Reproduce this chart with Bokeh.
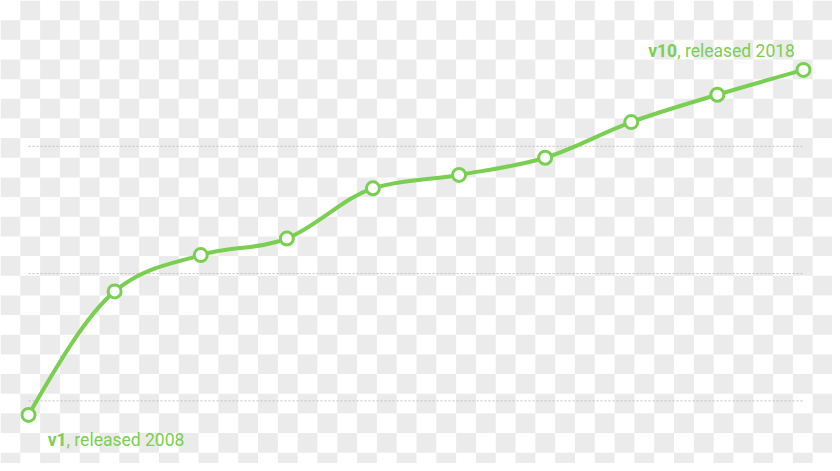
import numpy as np
from bokeh.plotting import figure
from bokeh.models import Range1d
from bokeh.core.properties import value
from bokeh.embed import file_html
from bokeh.resources import INLINE

# ---- data -------------------------------------------------------------
versions = [1, 2, 3, 4, 5, 6, 7, 8, 9, 10]
values = [89, 186, 214.5, 227.5, 267, 277.5, 291, 319, 340.5, 360]
grid_values = [100, 200, 300]
first_label = ["v1", ", released 2008"]
last_label = ["v10", ", released 2018"]

GREEN = "#7acf52"
GRID = "#c0c0c0"
CHECK = "#ebebeb"

# ---- layout / scales ----------------------------------------------------
REF_W, REF_H = 840, 471          # design canvas
W, H = 832, 463                  # fits the window with the 8px page margin
SX, SY = W / REF_W, H / REF_H
PX_PER_X = 86.93                 # design px per version step
PX_PER_Y = 1.295                 # design px per value unit
x_start = versions[0] - 28.3 / PX_PER_X
x_end = x_start + REF_W / PX_PER_X
y_end = grid_values[0] + 407.3 / PX_PER_Y
y_start = y_end - REF_H / PX_PER_Y

p = figure(width=W, height=H, output_backend="svg", toolbar_location=None,
           x_range=Range1d(x_start, x_end), y_range=Range1d(y_start, y_end),
           min_border=0, background_fill_color="white", border_fill_color="white")
p.axis.visible = False
p.grid.visible = False
p.outline_line_color = None

# ---- checkerboard background (transparent-image look) -----------------
def dx_to_x(X):
    return x_start + X / PX_PER_X

def dy_to_y(Y):
    return y_end - Y / PX_PER_Y

L, R, T, B = [], [], [], []
for c in range(0, 42):
    for r in range(0, 24):
        if (c + r) % 2 == 1:
            X0, X1 = 20 * c, min(20 * c + 20, REF_W)
            Y0, Y1 = 20 * r, min(20 * r + 20, REF_H)
            L.append(dx_to_x(X0)); R.append(dx_to_x(X1))
            T.append(dy_to_y(Y0)); B.append(dy_to_y(Y1))
p.quad(left=L, right=R, top=T, bottom=B, fill_color=CHECK, line_color=None)

# ---- dotted reference lines --------------------------------------------
p.segment(x0=[versions[0]] * len(grid_values), x1=[versions[-1]] * len(grid_values),
          y0=grid_values, y1=grid_values, line_color=GRID, line_width=1,
          line_dash="2 2")

# ---- smooth monotone curve (d3 curveMonotoneX style) --------------------
x = np.array(versions, dtype=float)
y = np.array(values, dtype=float)
n = len(x)
h = np.diff(x)
s = np.diff(y) / h
t = np.zeros(n)
for i in range(1, n - 1):
    p_ = (s[i - 1] * h[i] + s[i] * h[i - 1]) / (h[i - 1] + h[i])
    t[i] = (np.sign(s[i - 1]) + np.sign(s[i])) * min(abs(s[i - 1]), abs(s[i]), 0.5 * abs(p_))
t[0] = (3 * s[0] - t[1]) / 2
t[-1] = (3 * s[-1] - t[-2]) / 2
dx = h / 3
p.bezier(x0=x[:-1], y0=y[:-1], x1=x[1:], y1=y[1:],
         cx0=x[:-1] + dx, cy0=y[:-1] + dx * t[:-1],
         cx1=x[1:] - dx, cy1=y[1:] - dx * t[1:],
         line_color=GREEN, line_width=4, line_cap="round")

p.scatter(versions, values, size=13, fill_color="white", line_color=GREEN,
          line_width=3)

# ---- labels ------------------------------------------------------------
FONT = value("Roboto")
common = dict(text_font=FONT, text_font_size="17.5px", text_color=GREEN,
              text_baseline="alphabetic")
# first label: joined at the comma, 38.4 design px right of the point
p.text(x=[versions[0]], y=[values[0]], text=[first_label[0]], x_offset=38.4 * SX,
       y_offset=25.6 * SY, text_align="right", text_font_style="bold", **common)
p.text(x=[versions[0]], y=[values[0]], text=[first_label[1]], x_offset=38.4 * SX,
       y_offset=25.6 * SY, text_align="left", **common)
# last label: joined at the comma, 127 design px left of the point
p.text(x=[versions[-1]], y=[values[-1]], text=[last_label[0]], x_offset=-127.5 * SX,
       y_offset=-19.4 * SY, text_align="right", text_font_style="bold", **common)
p.text(x=[versions[-1]], y=[values[-1]], text=[last_label[1]], x_offset=-127.5 * SX,
       y_offset=-19.4 * SY, text_align="left", **common)

open("out.html", "w").write(file_html(p, INLINE))
